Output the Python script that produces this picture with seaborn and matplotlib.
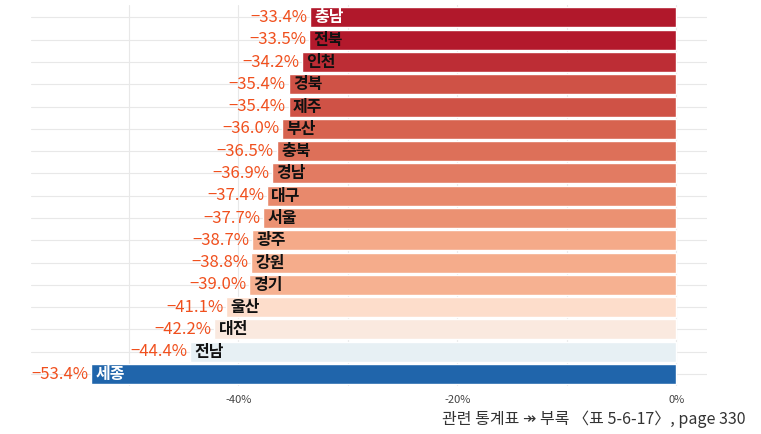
import numpy as np
import pandas as pd
import seaborn as sns
import matplotlib.pyplot as plt

regioes = ['충남', '전북', '인천', '경북', '제주', '부산', '충북', '경남', '대구',
           '서울', '광주', '강원', '경기', '울산', '대전', '전남', '세종']
variacao = [-33.4, -33.5, -34.2, -35.4, -35.4, -36.0, -36.5, -36.9, -37.4,
            -37.7, -38.7, -38.8, -39.0, -41.1, -42.2, -44.4, -53.4]
ticks_x = [-50, -40, -30, -20, -10, 0]
rotulos_x = ['', '-40%', '', '-20%', '', '0%']
nome_branco = ['충남', '세종']
nota = '관련 통계표 ↠ 부록 〈표 5-6-17〉, page 330'

df = pd.DataFrame({'regiao': regioes, 'variacao': variacao})

# cor de cada barra pela escala divergente RdBu
cmap = plt.get_cmap('RdBu_r')
vmin, vmax = min(variacao), max(variacao)
paleta = {r: cmap(0.1 + 0.8 * (v - vmin) / (vmax - vmin)) for r, v in zip(regioes, variacao)}

sns.set_theme(style='white')
plt.rcParams['font.family'] = ['Noto Sans CJK KR', 'DejaVu Sans']

fig = plt.figure(figsize=(7.61, 4.34), dpi=100)
ax = fig.add_axes([0.041, 0.11, 0.888, 0.878])

sns.barplot(data=df, y='regiao', x='variacao', hue='regiao', palette=paleta,
            orient='h', width=0.9, legend=False, ax=ax, saturation=1, zorder=2)

ax.set_xlim(-58.9, 2.8)
ax.set_ylim(len(regioes) - 0.45, -0.55)
ax.set_xticks(ticks_x)
ax.set_xticklabels(rotulos_x, fontsize=8, color='#444444')
ax.tick_params(axis='x', length=0, pad=6)
ax.set_yticks(range(len(regioes)))
ax.set_yticklabels([])
ax.tick_params(axis='y', length=0)
ax.grid(True, color='#e8e8e8', lw=0.8, zorder=0)
ax.set_axisbelow(True)
ax.set_xlabel('')
ax.set_ylabel('')
for s in ax.spines.values():
    s.set_visible(False)

for i, (r, v) in enumerate(zip(regioes, variacao)):
    ax.text(v - 0.25, i, f'−{abs(v):.1f}%', ha='right', va='center',
            fontsize=12, color='#f0501e')
    ax.text(v + 0.4, i, r, ha='left', va='center', fontsize=11.5, fontweight='bold',
            color='white' if r in nome_branco else '#111111')

fig.text(0.98, 0.035, nota, ha='right', va='center', fontsize=11.5, color='#333333')

plt.savefig('out.png', dpi=100)
